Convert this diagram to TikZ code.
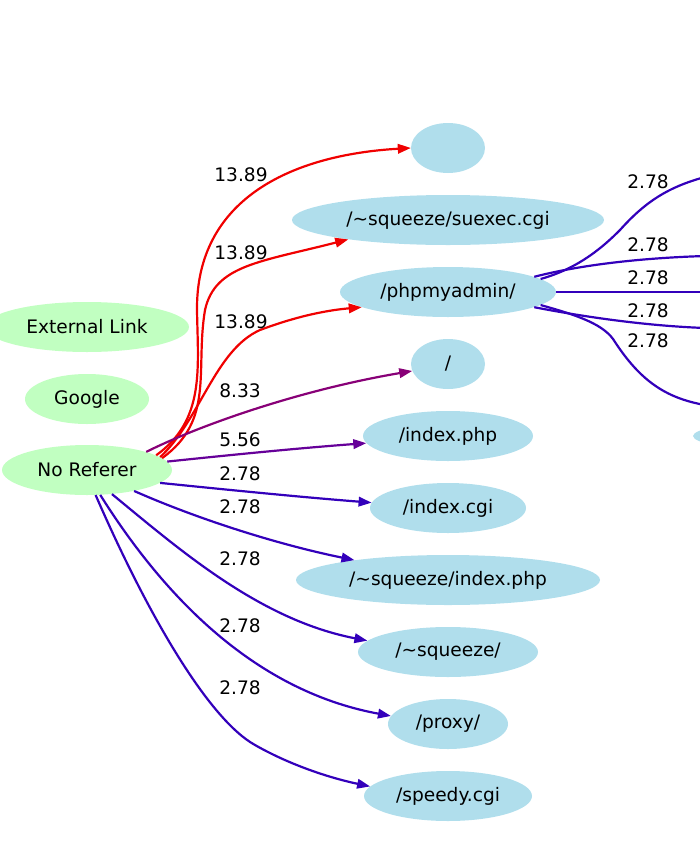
\documentclass[tikz,border=0pt]{standalone}
\usepackage{fontspec}
\setmainfont{DejaVu Sans}
\usetikzlibrary{arrows.meta,shapes.geometric}
\definecolor{nodeblue}{RGB}{176,222,236}
\definecolor{nodegreen}{RGB}{193,255,193}
\definecolor{ered}{RGB}{240,0,0}
\definecolor{epurple}{RGB}{136,0,119}
\definecolor{eviolet}{RGB}{102,0,153}
\definecolor{eblue}{RGB}{51,0,187}
\tikzset{
  pg/.style={ellipse, fill=nodeblue, inner sep=0pt, minimum height=50pt},
  src/.style={ellipse, fill=nodegreen, inner sep=0pt, minimum height=50pt},
  lbl/.style={text=black},
  edge/.style={line width=2.2pt, -{Triangle[length=13pt,width=9.5pt]}},
  openedge/.style={line width=2.2pt},
}
\begin{document}
\begin{tikzpicture}[x=1pt,y=-1pt,font=\fontsize{18.6}{20}\selectfont]
\useasboundingbox (0,0) rectangle (700,841);
\clip (0,0) rectangle (700,841);
% source nodes
\node[src, minimum width=204pt] (ext) at (87,327) {External Link};
\node[src, minimum width=124pt] (goo) at (87,399) {Google};
\node[src, minimum width=170pt] (nor) at (87,470) {No Referer};
% page nodes
\node[pg, minimum width=74pt] (empty) at (448,148) {};
\node[pg, minimum width=312pt] (suexec) at (448,220) {/\textasciitilde squeeze/suexec.cgi};
\node[pg, minimum width=216pt] (pma) at (448,292) {/phpmyadmin/};
\node[pg, minimum width=74pt] (root) at (448,364) {/};
\node[pg, minimum width=170pt] (iphp) at (448,436) {/index.php};
\node[pg, minimum width=156pt] (icgi) at (448,508) {/index.cgi};
\node[pg, minimum width=304pt] (sqi) at (448,580) {/\textasciitilde squeeze/index.php};
\node[pg, minimum width=180pt] (sq) at (448,652) {/\textasciitilde squeeze/};
\node[pg, minimum width=120pt] (proxy) at (448,724) {/proxy/};
\node[pg, minimum width=168pt] (speedy) at (448,796) {/speedy.cgi};
\node[pg, minimum width=600pt] (offr) at (993,436) {};
% off-picture ends
\coordinate (o1) at (705,177);
\coordinate (o2) at (705,256);
\coordinate (o3) at (705,292);
\coordinate (o4) at (705,328);
\coordinate (o5) at (705,405);
% red edges
\draw[edge, ered] (nor.12) .. controls (205,420) and (198,370) .. (197,310) .. controls (196,200) and (290,155) .. (empty.west);
\draw[edge, ered] (nor.9) .. controls (215,420) and (195,370) .. (205,310) .. controls (215,265) and (260,262) .. (suexec.191);
\draw[edge, ered] (nor.10) .. controls (200,420) and (215,350) .. (260,330) .. controls (300,315) and (330,310) .. (pma.190);
% other edges
\draw[edge, epurple] (nor.17) .. controls (200,425) and (300,390) .. (root.191);
\draw[edge, eviolet] (nor.6) .. controls (230,455) and (300,448) .. (iphp.185);
\draw[edge, eblue] (nor.-10) .. controls (230,490) and (300,497) .. (icgi.176);
\draw[edge, eblue] (nor.-24) .. controls (200,520) and (280,545) .. (sqi.168);
\draw[edge, eblue] (nor.-44) .. controls (180,550) and (260,620) .. (sq.172);
\draw[edge, eblue] (nor.-62) .. controls (160,590) and (250,690) .. (proxy.172);
\draw[edge, eblue] (nor.-71) .. controls (150,620) and (210,720) .. (255,745) .. controls (290,765) and (330,778) .. (speedy.173);
% phpmyadmin outgoing
\draw[openedge, eblue] (pma.8) .. controls (580,268) and (605,245) .. (620,230) .. controls (645,202) and (668,187) .. (o1);
\draw[openedge, eblue] (pma.10) .. controls (580,265) and (640,258) .. (o2);
\draw[openedge, eblue] (pma.east) -- (o3);
\draw[openedge, eblue] (pma.-10) .. controls (590,318) and (650,326) .. (o4);
\draw[openedge, eblue] (pma.-8) .. controls (580,316) and (605,325) .. (615,342) .. controls (640,380) and (665,398) .. (o5);
% labels
\node[lbl] (l1) at (241,175) {13.89};
\node[lbl] (l2) at (241,253) {13.89};
\node[lbl] (l3) at (241,322) {13.89};
\node[lbl] (l4) at (240,391) {8.33};
\node[lbl] (l5) at (240,440) {5.56};
\node[lbl] (l6) at (240,474) {2.78};
\node[lbl] (l7) at (240,507) {2.78};
\node[lbl] (l8) at (240,559) {2.78};
\node[lbl] (l9) at (240,626) {2.78};
\node[lbl] (l10) at (240,688) {2.78};
\node[lbl] (r1) at (648,182) {2.78};
\node[lbl] (r2) at (648,245) {2.78};
\node[lbl] (r3) at (648,278) {2.78};
\node[lbl] (r4) at (648,311) {2.78};
\node[lbl] (r5) at (648,341) {2.78};
\end{tikzpicture}
\end{document}
